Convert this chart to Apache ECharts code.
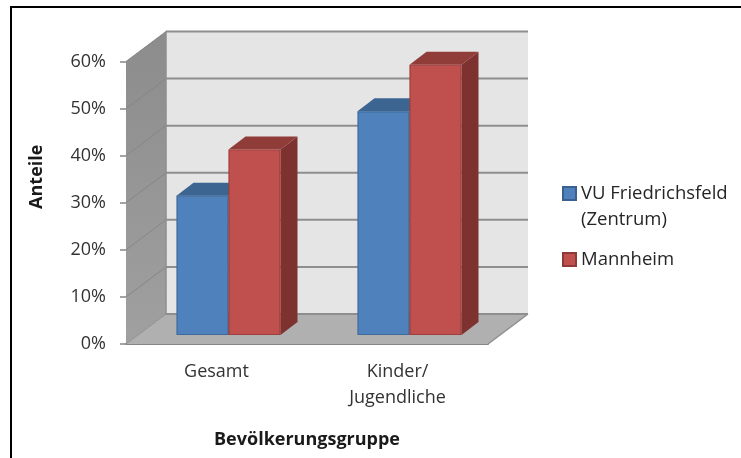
<!DOCTYPE html>
<html><head><meta charset="utf-8">
<script src="https://cdn.jsdelivr.net/npm/echarts@6/dist/echarts.min.js"></script>
<style>html,body{margin:0;padding:0;background:#fff}#c{width:741px;height:458px}</style>
</head><body><div id="c"></div>
<script>
const categories = ['Gesamt', 'Kinder/\nJugendliche'];
const seriesVU = [29.6, 47.5];
const seriesMannheim = [39.4, 57.4];
const nameVU = 'VU Friedrichsfeld\n(Zentrum)';
const nameMA = 'Mannheim';
const yTicks = [0, 10, 20, 30, 40, 50, 60];

const FONT = '"Open Sans", sans-serif';
const DX = 40, DY = 30;        // wall depth in pixels
const BX = 12, BY = 9;         // bar front set back from front plane
const SX = 17, SY = 13;        // bar depth
const BW = 52;                 // bar width

function poly(points, fill, stroke, lw) {
  return { type: 'polygon', shape: { points }, style: { fill, stroke: stroke || 'none', lineWidth: lw || 0 } };
}
function line(x1, y1, x2, y2, stroke, lw) {
  return { type: 'line', shape: { x1, y1, x2, y2 }, style: { stroke, lineWidth: lw } };
}
function renderWalls(params, api) {
  const cs = params.coordSys;
  const L = cs.x, R = cs.x + cs.width;
  const y0 = api.coord([0, 0])[1];
  const yT = api.coord([0, yTicks[yTicks.length - 1]])[1];
  const kids = [];
  kids.push(poly([[L + DX, yT - DY], [R + DX, yT - DY], [R + DX, y0 - DY], [L + DX, y0 - DY]], '#e5e5e5'));
  kids.push({ type: 'polygon', shape: { points: [[L, yT], [L + DX, yT - DY], [L + DX, y0 - DY], [L, y0]] },
    style: { fill: { type: 'linear', x: 0, y: 0, x2: 0, y2: 1, colorStops: [{ offset: 0, color: '#8c8c8c' }, { offset: 1, color: '#a0a0a0' }] } } });
  kids.push(poly([[L, y0], [L + DX, y0 - DY], [R + DX, y0 - DY], [R, y0]], '#b0b0b0'));
  yTicks.forEach(t => {
    const y = api.coord([0, t])[1];
    if (t > 0) kids.push(line(L, y, L + DX, y - DY, '#868686', 1));
    kids.push(line(L + DX, y - DY, R + DX, y - DY, '#8e8e8e', 2));
  });
  kids.push(line(L + DX, yT - DY, L + DX, y0 - DY, '#8e8e8e', 1.5));
  kids.push(line(L, y0, L + DX, y0 - DY, '#8e8e8e', 1));
  kids.push(line(R, y0, R + DX, y0 - DY, '#8e8e8e', 1.5));
  return { type: 'group', children: kids };
}
function barRenderer(offset, front, top, side, edge) {
  return function (params, api) {
    const cat = api.value(0), val = api.value(1);
    const pTop = api.coord([cat, val]);
    const pBase = api.coord([cat, 0]);
    const x0 = pTop[0] + BX + offset * BW;
    const x1 = x0 + BW;
    const yt = pTop[1] - BY, yb = pBase[1] - BY;
    return { type: 'group', children: [
      poly([[x1, yt], [x1 + SX, yt - SY], [x1 + SX, yb - SY], [x1, yb]], side),
      poly([[x0, yt], [x0 + SX, yt - SY], [x1 + SX, yt - SY], [x1, yt]], top),
      { type: 'rect', shape: { x: x0 + 0.5, y: yt + 0.5, width: BW - 1, height: yb - yt - 1 },
        style: { fill: front, stroke: edge, lineWidth: 1.2 } }
    ] };
  };
}

const chart = echarts.init(document.getElementById('c'), null, { renderer: 'canvas' });
chart.setOption({
  animation: false,
  backgroundColor: '#fff',
  graphic: [
    { type: 'line', silent: true, shape: { x1: 10, y1: 7, x2: 741, y2: 7 }, style: { stroke: '#000', lineWidth: 2 } },
    { type: 'line', silent: true, shape: { x1: 11, y1: 6, x2: 11, y2: 458 }, style: { stroke: '#000', lineWidth: 2 } }
  ],
  grid: { left: 126, top: 61.5, width: 362, height: 282.5, containLabel: false, outerBoundsMode: 'none' },
  legend: [
    { data: [nameVU], left: 562, top: 158, orient: 'vertical', selectedMode: false, itemWidth: 13, itemHeight: 13, padding: 0, itemGap: 0,
      icon: 'rect',
      formatter: () => '{a| }\n{a|VU Friedrichsfeld}\n{a|(Zentrum)}',
      textStyle: { rich: { a: { fontFamily: FONT, fontSize: 18.5, color: '#262626', lineHeight: 26 } } } },
    { data: [nameMA], left: 562, top: 250, orient: 'vertical', selectedMode: false, itemWidth: 13, itemHeight: 13, padding: 0,
      icon: 'rect',
      textStyle: { fontFamily: FONT, fontSize: 18.5, color: '#262626' } }
  ],
  xAxis: {
    type: 'category', data: categories,
    name: 'Bevölkerungsgruppe', nameLocation: 'middle', nameGap: 87,
    nameTextStyle: { fontFamily: FONT, fontSize: 18, fontWeight: 'bold', color: '#1a1a1a' },
    axisLine: { lineStyle: { color: '#868686', width: 2 } },
    axisTick: { show: false },
    splitLine: { show: false },
    axisLabel: { fontFamily: FONT, fontSize: 18, color: '#333', margin: 15, lineHeight: 26 }
  },
  yAxis: {
    type: 'value', min: 0, max: 60, interval: 10,
    name: 'Anteile', nameLocation: 'middle', nameRotate: 90, nameGap: 80,
    nameTextStyle: { fontFamily: FONT, fontSize: 18, fontWeight: 'bold', color: '#1a1a1a', padding: [0, 0, 0, 52] },
    axisLine: { show: true, lineStyle: { color: '#868686', width: 1 } },
    axisTick: { show: true, length: 6, lineStyle: { color: '#868686', width: 1.5 } },
    splitLine: { show: false },
    axisLabel: { formatter: '{value}%', fontFamily: FONT, fontSize: 18, color: '#333', margin: 20 }
  },
  series: [
    { type: 'custom', silent: true, z: 1, renderItem: renderWalls, data: [[0, 0]], legendHoverLink: false, clip: false },
    { type: 'custom', name: nameVU, z: 2, clip: false, renderItem: barRenderer(-1, '#4f81bd', '#3c6592', '#37597f', '#3f6a9c'),
      itemStyle: { color: '#4f81bd', borderColor: '#3a6190', borderWidth: 1.5 },
      encode: { x: 0, y: 1 }, data: seriesVU.map((v, i) => [i, v]) },
    { type: 'custom', name: nameMA, z: 3, clip: false, renderItem: barRenderer(0, '#c0504d', '#903c39', '#7d3230', '#9f3f3c'),
      itemStyle: { color: '#c0504d', borderColor: '#8f3a38', borderWidth: 1.5 },
      encode: { x: 0, y: 1 }, data: seriesMannheim.map((v, i) => [i, v]) }
  ]
});
</script></body></html>
